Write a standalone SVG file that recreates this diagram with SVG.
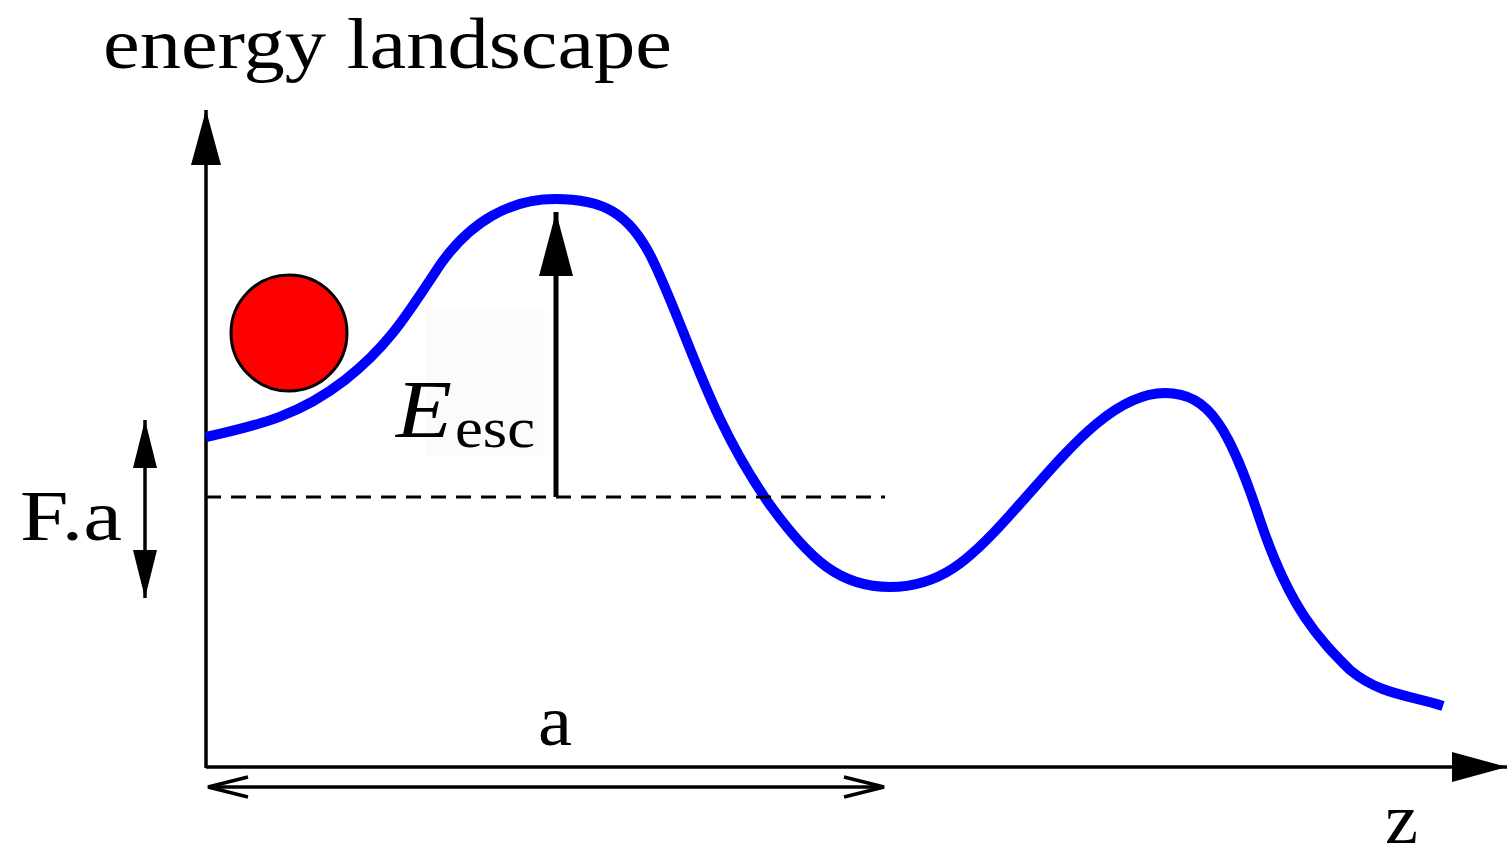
<svg xmlns="http://www.w3.org/2000/svg" width="1507" height="851" viewBox="0 0 1507 851">
<style>
.t{font-family:"Liberation Serif","Times New Roman",serif;fill:#000}
.ax{stroke:#000;stroke-width:3.5;fill:none}
</style>
<defs>
<marker id="axh" markerUnits="userSpaceOnUse" viewBox="0 -16 56 32" refX="55" refY="0" markerWidth="56" markerHeight="32" orient="auto-start-reverse" overflow="visible">
<path d="M0,-15 L55,0 L0,15 z" fill="#000"/>
</marker>
<marker id="eh" markerUnits="userSpaceOnUse" viewBox="0 -18 66 36" refX="64" refY="0" markerWidth="66" markerHeight="36" orient="auto" overflow="visible">
<path d="M0,-17 L64,0 L0,17 z" fill="#000"/>
</marker>
<marker id="fh" markerUnits="userSpaceOnUse" viewBox="0 -12 50 24" refX="48" refY="0" markerWidth="50" markerHeight="24" orient="auto-start-reverse" overflow="visible">
<path d="M0,-12 L48,0 L0,12 z" fill="#000"/>
</marker>
<marker id="oh" markerUnits="userSpaceOnUse" viewBox="-42 -12 44 24" refX="0" refY="0" markerWidth="44" markerHeight="24" orient="auto-start-reverse" overflow="visible">
<path d="M-40,-10 L0,0 L-40,10" fill="none" stroke="#000" stroke-width="3.5"/>
</marker>
</defs>
<rect x="0" y="0" width="1507" height="851" fill="#fff"/>
<g id="title"><text class="t" x="103" y="68" font-size="72" textLength="569" lengthAdjust="spacingAndGlyphs">energy landscape</text></g>
<g id="axes">
<line class="ax" x1="206" y1="768" x2="206" y2="110" marker-end="url(#axh)"/>
<line class="ax" x1="206" y1="767" x2="1507" y2="767" marker-end="url(#axh)"/>
</g>
<g id="landscape">
<path d="M206,437 C260,425 300,415 345,380 C390,345 410,310 440,265 C470,222 510,199 555,199 C600,199 630,210 655,265 C690,340 710,420 770,505 C810,560 840,587 890,587 C940,587 970,560 1010,515 C1060,460 1110,393 1165,393 C1210,393 1230,430 1260,520 C1290,610 1320,640 1350,670 C1380,695 1410,695 1443,706" fill="none" stroke="#0000ff" stroke-width="10"/>
</g>
<g id="ball"><circle cx="289" cy="333" r="58" fill="#ff0000" stroke="#000" stroke-width="3"/></g>
<g id="label-bg"><rect x="426" y="310" width="119" height="145" fill="#fbfbfb"/></g>
<g id="connectors">
<line x1="206" y1="497" x2="885" y2="497" stroke="#000" stroke-width="3" stroke-dasharray="15,10"/>
<line x1="556" y1="497" x2="556" y2="212" stroke="#000" stroke-width="5" marker-end="url(#eh)"/>
<line x1="145" y1="598" x2="145" y2="420" stroke="#000" stroke-width="3.5" marker-start="url(#fh)" marker-end="url(#fh)"/>
<line x1="208" y1="787" x2="884" y2="787" stroke="#000" stroke-width="3.5" marker-start="url(#oh)" marker-end="url(#oh)"/>
</g>
<g id="labels">
<text class="t" x="396" y="437" font-size="82" font-style="italic" textLength="56" lengthAdjust="spacingAndGlyphs">E</text>
<text class="t" x="455" y="447" font-size="58" textLength="80" lengthAdjust="spacingAndGlyphs">esc</text>
<text class="t" x="20" y="540" font-size="72" textLength="102" lengthAdjust="spacingAndGlyphs">F.a</text>
<text class="t" x="538" y="745" font-size="72" textLength="34" lengthAdjust="spacingAndGlyphs">a</text>
<text class="t" x="1385" y="843" font-size="72" textLength="33" lengthAdjust="spacingAndGlyphs">z</text>
</g>
</svg>
